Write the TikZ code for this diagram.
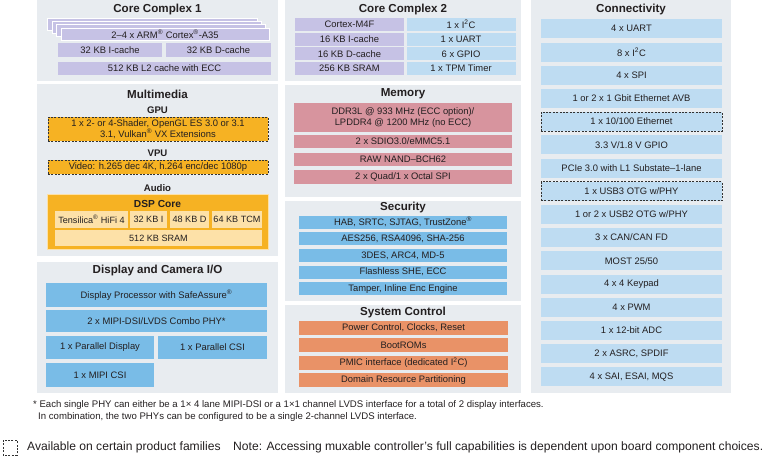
\documentclass[tikz,border=0pt]{standalone}
\usepackage{fontspec}
\setmainfont{Liberation Sans}
\usepackage{xcolor}
\definecolor{PanelGray}{RGB}{232,236,240}
\definecolor{Lavender}{RGB}{198,194,229}
\definecolor{LightBlue}{RGB}{190,220,242}
\definecolor{MidBlue}{RGB}{121,188,231}
\definecolor{MemPink}{RGB}{215,148,158}
\definecolor{SysOrange}{RGB}{233,146,103}
\definecolor{GpuOrange}{RGB}{246,178,35}
\definecolor{DspLight}{RGB}{253,225,168}
\definecolor{DashGray}{RGB}{50,50,50}
\definecolor{TextBlack}{RGB}{35,31,32}
\definecolor{White}{RGB}{255,255,255}
\newcommand{\regmark}{\textsuperscript{\textregistered}}
\newcommand{\itwoc}{I\textsuperscript{2}C}
\usetikzlibrary{positioning}

\begin{document}
\begin{tikzpicture}[x=1pt, y=-1pt,
    panel/.style={fill=PanelGray},
    heading/.style={text=TextBlack, font=\bfseries\fontsize{11.6}{13}\selectfont},
    subheading/.style={text=TextBlack, font=\bfseries\fontsize{9.6}{11}\selectfont},
    blockcell/.style={rectangle, inner sep=0pt, align=center, text=TextBlack, font=\fontsize{9.4}{10.8}\selectfont},
    corecell/.style={blockcell, fill=Lavender},
    linkcell/.style={blockcell, fill=LightBlue},
    bluecell/.style={blockcell, fill=MidBlue},
    memcell/.style={blockcell, fill=MemPink},
    syscell/.style={blockcell, fill=SysOrange},
    mediacell/.style={blockcell, fill=GpuOrange},
    dspcell/.style={blockcell, fill=DspLight, font=\fontsize{9.1}{10.5}\selectfont},
    optional/.style={draw=DashGray, line width=1pt, dash pattern=on 2pt off 1.4pt},
    notetext/.style={anchor=west, inner sep=0pt, text=TextBlack},
  ]

  \useasboundingbox (0,0) rectangle (768,456);

  % Panels
  \fill[panel] (37,0) rectangle (278,81);
  \fill[panel] (37,84) rectangle (278,256);
  \fill[panel] (37,262) rectangle (278,393);
  \fill[panel] (285,0) rectangle (521,81);
  \fill[panel] (285,85) rectangle (521,197);
  \fill[panel] (285,201) rectangle (521,301);
  \fill[panel] (285,305) rectangle (521,393);
  \fill[panel] (531,0) rectangle (731,393);

  % Core Complex 1
  \node[heading] (cc1) at (157.5,9) {Core Complex 1};
  \filldraw[fill=Lavender, draw=White, line width=0.6pt] (47,18) rectangle (257,30);
  \filldraw[fill=Lavender, draw=White, line width=0.6pt] (52,21) rectangle (261,33);
  \filldraw[fill=Lavender, draw=White, line width=0.6pt] (56,24) rectangle (265,36);
  \node[corecell, draw=White, line width=0.6pt, minimum width=208pt, minimum height=12pt] (a35) at (165,34) {2–4 x ARM\regmark{} Cortex\regmark-A35};
  \node[corecell, minimum width=104pt, minimum height=14pt] (icache) at (110,50) {32 KB I-cache};
  \node[corecell, minimum width=105pt, minimum height=14pt] (dcache) at (218.5,50) {32 KB D-cache};
  \node[corecell, minimum width=213pt, minimum height=13pt] (l2cache) at (164.5,68.5) {512 KB L2 cache with ECC};

  % Core Complex 2
  \node[heading] (cc2) at (403,9) {Core Complex 2};
  \node[corecell, minimum width=109pt, minimum height=13pt] (m4f) at (349.5,24.5) {Cortex-M4F};
  \node[corecell, minimum width=109pt, minimum height=13pt] (m4icache) at (349.5,39.2) {16 KB I-cache};
  \node[corecell, minimum width=109pt, minimum height=13pt] (m4dcache) at (349.5,53.9) {16 KB D-cache};
  \node[corecell, minimum width=109pt, minimum height=13pt] (m4sram) at (349.5,68.6) {256 KB SRAM};
  \node[linkcell, minimum width=109pt, minimum height=13pt] (m4i2c) at (461,24.5) {1 x \itwoc};
  \node[linkcell, minimum width=109pt, minimum height=13pt] (m4uart) at (461,39.2) {1 x UART};
  \node[linkcell, minimum width=109pt, minimum height=13pt] (m4gpio) at (461,53.9) {6 x GPIO};
  \node[linkcell, minimum width=109pt, minimum height=13pt] (m4tpm) at (461,68.6) {1 x TPM Timer};

  % Connectivity
  \node[heading] (conn) at (631,9) {Connectivity};
  \node[linkcell, minimum width=181pt, minimum height=19pt] (uart) at (631.5,28.8) {4 x UART};
  \node[linkcell, minimum width=181pt, minimum height=19pt] (i2c) at (631.5,52.0) {8 x \itwoc};
  \node[linkcell, minimum width=181pt, minimum height=19pt] (spi) at (631.5,75.2) {4 x SPI};
  \node[linkcell, minimum width=181pt, minimum height=19pt] (gbeth) at (631.5,98.4) {1 or 2 x 1 Gbit Ethernet AVB};
  \node[linkcell, optional, minimum width=181pt, minimum height=19pt] (eth) at (631.5,121.6) {1 x 10/100 Ethernet};
  \node[linkcell, minimum width=181pt, minimum height=19pt] (gpio) at (631.5,144.8) {3.3 V/1.8 V GPIO};
  \node[linkcell, minimum width=181pt, minimum height=19pt] (pcie) at (631.5,168.0) {PCIe 3.0 with L1 Substate–1-lane};
  \node[linkcell, optional, minimum width=181pt, minimum height=19pt] (usb3) at (631.5,191.2) {1 x USB3 OTG w/PHY};
  \node[linkcell, minimum width=181pt, minimum height=19pt] (usb2) at (631.5,214.4) {1 or 2 x USB2 OTG w/PHY};
  \node[linkcell, minimum width=181pt, minimum height=19pt] (can) at (631.5,237.6) {3 x CAN/CAN FD};
  \node[linkcell, minimum width=181pt, minimum height=19pt] (most) at (631.5,260.8) {MOST 25/50};
  \node[linkcell, minimum width=181pt, minimum height=19pt] (keypad) at (631.5,284.0) {4 x 4 Keypad};
  \node[linkcell, minimum width=181pt, minimum height=19pt] (pwm) at (631.5,307.2) {4 x PWM};
  \node[linkcell, minimum width=181pt, minimum height=19pt] (adc) at (631.5,330.4) {1 x 12-bit ADC};
  \node[linkcell, minimum width=181pt, minimum height=19pt] (asrc) at (631.5,353.6) {2 x ASRC, SPDIF};
  \node[linkcell, minimum width=181pt, minimum height=19pt] (sai) at (631.5,376.8) {4 x SAI, ESAI, MQS};

  % Multimedia
  \node[heading] (media) at (157.5,94) {Multimedia};
  \node[subheading] (gpulabel) at (157.5,110) {GPU};
  \node[mediacell, optional, minimum width=220pt, minimum height=24pt] (gpu) at (158,129) {1 x 2- or 4-Shader, OpenGL ES 3.0 or 3.1\\3.1, Vulkan\regmark{} VX Extensions};
  \node[subheading] (vpulabel) at (157.5,153) {VPU};
  \node[mediacell, optional, minimum width=220pt, minimum height=14pt] (vpu) at (158,167) {Video: h.265 dec 4K, h.264 enc/dec 1080p};
  \node[subheading] (audiolabel) at (157.5,188) {Audio};
  \node[mediacell, draw=DspLight, line width=0.6pt, minimum width=221pt, minimum height=55pt] (dsp) at (157.5,221.5) {};
  \node[text=TextBlack, font=\bfseries\fontsize{10.2}{12}\selectfont] (dsptitle) at (157.5,203.5) {DSP Core};
  \node[dspcell, minimum width=73pt, minimum height=17pt] (hifi) at (91.5,219.5) {Tensilica\regmark{} HiFi 4};
  \node[dspcell, minimum width=37pt, minimum height=17pt] (dspi) at (148.5,219.5) {32 KB I};
  \node[dspcell, minimum width=39pt, minimum height=17pt] (dspd) at (189.5,219.5) {48 KB D};
  \node[dspcell, minimum width=50pt, minimum height=17pt] (tcm) at (237,219.5) {64 KB TCM};
  \node[dspcell, minimum width=207pt, minimum height=16pt] (dspsram) at (158.5,238) {512 KB SRAM};

  % Memory
  \node[heading] (mem) at (403,94) {Memory};
  \node[memcell, minimum width=218pt, minimum height=29pt] (ddr) at (403,117.5) {DDR3L @ 933 MHz (ECC option)/\\LPDDR4 @ 1200 MHz (no ECC)};
  \node[memcell, minimum width=218pt, minimum height=13pt] (sdio) at (403,141.5) {2 x SDIO3.0/eMMC5.1};
  \node[memcell, minimum width=218pt, minimum height=13pt] (nand) at (403,159.5) {RAW NAND–BCH62};
  \node[memcell, minimum width=218pt, minimum height=14pt] (qspi) at (403,177) {2 x Quad/1 x Octal SPI};

  % Security
  \node[heading] (sec) at (403,207) {Security};
  \node[bluecell, minimum width=208pt, minimum height=13pt] (hab) at (403,222) {HAB, SRTC, SJTAG, TrustZone\regmark};
  \node[bluecell, minimum width=208pt, minimum height=13pt] (aes) at (403,238.7) {AES256, RSA4096, SHA-256};
  \node[bluecell, minimum width=208pt, minimum height=13pt] (des) at (403,255.4) {3DES, ARC4, MD-5};
  \node[bluecell, minimum width=208pt, minimum height=13pt] (she) at (403,272.1) {Flashless SHE, ECC};
  \node[bluecell, minimum width=208pt, minimum height=13pt] (tamper) at (403,288.8) {Tamper, Inline Enc Engine};

  % System Control
  \node[heading] (sys) at (403,312) {System Control};
  \node[syscell, minimum width=209pt, minimum height=14pt] (power) at (403.5,328) {Power Control, Clocks, Reset};
  \node[syscell, minimum width=209pt, minimum height=14pt] (boot) at (403.5,345.3) {BootROMs};
  \node[syscell, minimum width=209pt, minimum height=14pt] (pmic) at (403.5,362.6) {PMIC interface (dedicated \itwoc)};
  \node[syscell, minimum width=209pt, minimum height=14pt] (domain) at (403.5,379.9) {Domain Resource Partitioning};

  % Display and Camera I/O
  \node[heading] (disp) at (157.5,270) {Display and Camera I/O};
  \node[bluecell, minimum width=221pt, minimum height=24pt] (dpu) at (156.5,295) {Display Processor with SafeAssure\regmark};
  \node[bluecell, minimum width=221pt, minimum height=22pt] (mipidsi) at (156.5,321) {2 x MIPI-DSI/LVDS Combo PHY*};
  \node[bluecell, minimum width=108pt, minimum height=23pt] (pardisp) at (100,347.5) {1 x Parallel Display};
  \node[bluecell, minimum width=109pt, minimum height=23pt] (parcsi) at (212.5,347.5) {1 x Parallel CSI};
  \node[bluecell, minimum width=108pt, minimum height=24pt] (mipicsi) at (100,375) {1 x MIPI CSI};

  % Notes
  \node[notetext, font=\fontsize{9.6}{11}\selectfont] (phynote) at (33,405) {* Each single PHY can either be a 1× 4 lane MIPI-DSI or a 1×1 channel LVDS interface for a total of 2 display interfaces.};
  \node[notetext, font=\fontsize{9.6}{11}\selectfont] (combnote) at (38,417) {In combination, the two PHYs can be configured to be a single 2-channel LVDS interface.};
  \draw[optional] (3,440) rectangle (17,455);
  \node[notetext, font=\fontsize{12.1}{14}\selectfont] (legend) at (27,447) {Available on certain product families};
  \node[notetext, font=\fontsize{12.1}{14}\selectfont] (muxnote) at (233,447) {Note: Accessing muxable controller's full capabilities is dependent upon board component choices.};

\end{tikzpicture}
\end{document}
